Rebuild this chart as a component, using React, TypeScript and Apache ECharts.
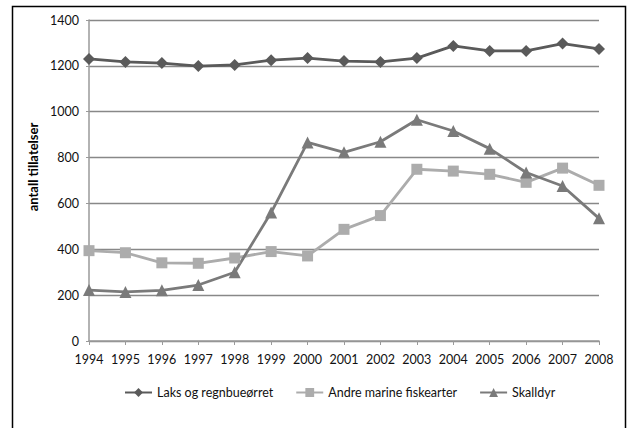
import React, { useEffect, useRef } from "react";
import * as echarts from "echarts";

const years = ["1994","1995","1996","1997","1998","1999","2000","2001","2002","2003","2004","2005","2006","2007","2008"];
const laks = [1230, 1217, 1212, 1199, 1204, 1225, 1234, 1221, 1217, 1234, 1287, 1265, 1265, 1297, 1274];
const andre = [394, 385, 341, 339, 362, 390, 371, 487, 547, 749, 741, 727, 692, 754, 679];
const skalldyr = [222, 214, 221, 244, 300, 560, 866, 823, 869, 965, 916, 839, 735, 676, 535];
const seriesNames = ["Laks og regnbueørret", "Andre marine fiskearter", "Skalldyr"];
const yTitle = "antall tillatelser";

const FONT = "Lato";

export default function App() {
  const ref = useRef<HTMLDivElement>(null);
  useEffect(() => {
    const chart = echarts.init(ref.current!, null, { renderer: "svg" });
    const mk = (name: string, data: number[], color: string, symbol: string, size: number) => ({
      name,
      type: "line",
      data,
      color,
      symbol,
      symbolSize: size,
      lineStyle: { color, width: 2.8 },
      itemStyle: { color },
    });
    chart.setOption({
      animation: false,
      backgroundColor: "#fff",
      textStyle: { fontFamily: FONT },
      grid: { left: 89, right: 30, top: 20, bottom: 87 },
      xAxis: {
        type: "category",
        data: years,
        boundaryGap: false,
        axisLine: { lineStyle: { color: "#9a9a9a", width: 1.5 } },
        axisTick: { show: true, length: 4, interval: 0, lineStyle: { color: "#9a9a9a" } },
        axisLabel: { color: "#111", fontSize: 12.5, margin: 12, interval: 0, hideOverlap: false, fontFamily: FONT },
      },
      yAxis: {
        type: "value",
        min: 0,
        max: 1400,
        interval: 200,
        axisLine: { show: true, lineStyle: { color: "#9a9a9a", width: 1.5 } },
        axisTick: { show: true, length: 3, lineStyle: { color: "#9a9a9a" } },
        axisLabel: {
          color: "#111",
          fontSize: 12.5,
          margin: 10,
          fontFamily: FONT,
          formatter: (v: number) => String(v),
        },
        splitLine: { lineStyle: { color: "#888", width: 1.3 } },
      },
      legend: {
        left: 124,
        top: 386,
        padding: 0,
        itemWidth: 27,
        itemHeight: 11,
        itemGap: 22,
        textStyle: { color: "#111", fontSize: 12.5, fontFamily: FONT },
        data: seriesNames,
      },
      graphic: [
        {
          type: "rect",
          shape: { x: 12.5, y: 6.5, width: 613, height: 440 },
          style: { fill: "none", stroke: "#000", lineWidth: 1.5 },
          silent: true,
        },
        {
          type: "text",
          x: 33,
          y: 167,
          rotation: Math.PI / 2,
          style: {
            text: yTitle,
            fontFamily: FONT,
            fontWeight: "bold",
            fontSize: 13,
            fill: "#000",
            textAlign: "center",
            textVerticalAlign: "middle",
          },
        },
      ],
      series: [
        mk(seriesNames[0], laks, "#5a5a5a", "diamond", 12),
        mk(seriesNames[1], andre, "#acacac", "rect", 11),
        mk(seriesNames[2], skalldyr, "#7a7a7a", "triangle", 12),
      ],
    });
    return () => chart.dispose();
  }, []);
  return <div ref={ref} style={{ position: "fixed", left: 0, top: 0, width: 629, height: 428 }} />;
}
